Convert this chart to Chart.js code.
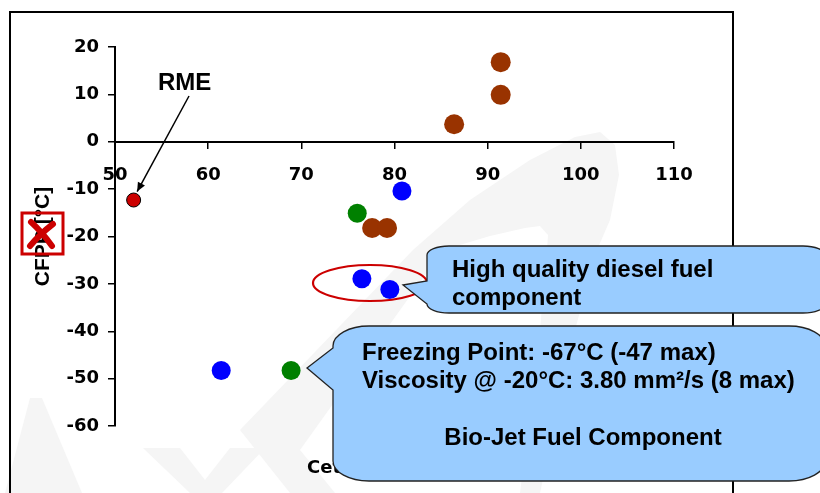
<!DOCTYPE html>
<html>
<head>
<meta charset="utf-8">
<script src="https://cdn.jsdelivr.net/npm/chart.js@4.4.0/dist/chart.umd.min.js"></script>
<style>
html, body { margin: 0; padding: 0; background: #fff; }
#wrap { width: 820px; height: 493px; }
</style>
</head>
<body>
<div id="wrap"><canvas id="myChart" width="820" height="493"></canvas></div>
<script>
// values (cetane number vs CFPP)
var rmeX = [52];
var rmeY = [-12.3];
var brownX = [91.4, 91.4, 86.4, 77.6, 79.2];
var brownY = [16.8, 9.9, 3.7, -18.2, -18.2];
var blueX = [80.8, 76.5, 79.5, 61.4];
var blueY = [-10.4, -28.9, -31.2, -48.3];
var greenX = [76, 68.9];
var greenY = [-15.1, -48.3];

var xTicks = [50, 60, 70, 80, 90, 100, 110];
var yTicks = [-60, -50, -40, -30, -20, -10, 0, 10, 20];

var yTitle = 'CFPP [°C]';
var xTitle = 'Cetane Number';
var rmeLabel = 'RME';
var note1 = ['High quality diesel fuel', 'component'];
var note2 = ['Freezing Point: -67°C (-47 max)', 'Viscosity @ -20°C: 3.80 mm²/s (8 max)', 'Bio-Jet Fuel Component'];

var tickFont = { family: 'DejaVu Sans', weight: 'bold', size: 18 };
var boxFont = 'bold 24px "Liberation Sans", Arial, sans-serif';

function pts(xs, ys){
    return xs.map(function(x, i){ return { x: x, y: ys[i] }; });
}

function callout(ctx, x0, y0, x1, y1, rx, ry, pTop, pBot, tipX, tipY){
    ctx.beginPath();
    ctx.moveTo(x0 + rx, y0);
    ctx.lineTo(x1 - rx, y0);
    ctx.ellipse(x1 - rx, y0 + ry, rx, ry, 0, -Math.PI / 2, 0);
    ctx.lineTo(x1, y1 - ry);
    ctx.ellipse(x1 - rx, y1 - ry, rx, ry, 0, 0, Math.PI / 2);
    ctx.lineTo(x0 + rx, y1);
    ctx.ellipse(x0 + rx, y1 - ry, rx, ry, 0, Math.PI / 2, Math.PI);
    ctx.lineTo(x0, pBot);
    ctx.lineTo(tipX, tipY);
    ctx.lineTo(x0, pTop);
    ctx.lineTo(x0, y0 + ry);
    ctx.ellipse(x0 + rx, y0 + ry, rx, ry, 0, Math.PI, Math.PI * 1.5);
    ctx.closePath();
    ctx.fillStyle = '#99CCFF';
    ctx.fill();
    ctx.strokeStyle = '#222';
    ctx.lineWidth = 1.3;
    ctx.stroke();
}

function poly(ctx, p){
    ctx.moveTo(p[0][0], p[0][1]);
    for (var i = 1; i < p.length; i++) ctx.lineTo(p[i][0], p[i][1]);
    ctx.closePath();
}

var decor = {
    id: 'decor',
    beforeDraw: function(chart){
        var ctx = chart.ctx;
        ctx.save();
        ctx.fillStyle = '#fff';
        ctx.fillRect(0, 0, chart.width, chart.height);
        // faint slide watermark
        ctx.fillStyle = '#f5f5f5';
        ctx.beginPath();
        poly(ctx, [[290,493],[240,430],[413,250],[470,200],[530,160],[575,137],[600,132],[615,145],[619,175],[610,220],[597,250],[575,330],[540,493]]);
        poly(ctx, [[335,493],[300,450],[443,250],[490,236],[525,228],[540,226],[548,235],[547,250],[540,330],[520,493]]);
        ctx.fill('evenodd');
        ctx.beginPath();
        poly(ctx, [[5,493],[30,398],[42,398],[82,493]]);
        ctx.fill();
        ctx.beginPath();
        poly(ctx, [[143,448],[180,448],[205,480],[230,448],[265,448],[222,493],[190,493]]);
        ctx.fill();
        // slide frame
        ctx.strokeStyle = '#000';
        ctx.lineWidth = 2;
        ctx.strokeRect(10, 12, 723, 600);
        ctx.restore();
    },
    afterDraw: function(chart){
        var ctx = chart.ctx;
        var xs = chart.scales.x, ys = chart.scales.y;
        ctx.save();

        // x axis title, mostly hidden behind the lower callout
        ctx.fillStyle = '#000';
        ctx.font = 'bold 18px "DejaVu Sans"';
        ctx.textAlign = 'left';
        ctx.textBaseline = 'alphabetic';
        ctx.fillText(xTitle, 307, 473);

        // broken picture placeholder over the y title
        ctx.strokeStyle = '#CC0000';
        ctx.lineWidth = 3;
        ctx.strokeRect(22, 213, 41, 41);
        ctx.lineCap = 'round';
        ctx.lineWidth = 6;
        ctx.beginPath();
        ctx.moveTo(31, 222); ctx.quadraticCurveTo(42, 232, 52, 246);
        ctx.moveTo(53, 224); ctx.quadraticCurveTo(40, 234, 30, 246);
        ctx.stroke();

        // RME label with arrow
        var px = xs.getPixelForValue(rmeX[0]), py = ys.getPixelForValue(rmeY[0]);
        ctx.fillStyle = '#000';
        ctx.font = boxFont;
        ctx.fillText(rmeLabel, 158, 90);
        var tx = px + 3.5, ty = py - 8.5;
        ctx.strokeStyle = '#000';
        ctx.lineWidth = 1.5;
        ctx.lineCap = 'butt';
        ctx.beginPath();
        ctx.moveTo(189, 96);
        ctx.lineTo(tx, ty);
        ctx.stroke();
        var a = Math.atan2(ty - 96, tx - 189);
        ctx.beginPath();
        ctx.moveTo(tx, ty);
        ctx.lineTo(tx - 9 * Math.cos(a) + 4 * Math.sin(a), ty - 9 * Math.sin(a) - 4 * Math.cos(a));
        ctx.lineTo(tx - 9 * Math.cos(a) - 4 * Math.sin(a), ty - 9 * Math.sin(a) + 4 * Math.cos(a));
        ctx.closePath();
        ctx.fill();

        // red ellipse round the two blue points
        ctx.strokeStyle = '#CC0000';
        ctx.lineWidth = 2.2;
        ctx.beginPath();
        ctx.ellipse(370, 283, 57, 18, 0, 0, Math.PI * 2);
        ctx.stroke();

        // callouts
        callout(ctx, 427, 246, 825, 313, 22, 9, 281, 304, 403, 285);
        callout(ctx, 333, 326, 825, 481, 36, 20, 348, 390, 307, 368);

        ctx.fillStyle = '#000';
        ctx.font = boxFont;
        ctx.textAlign = 'left';
        ctx.fillText(note1[0], 452, 277);
        ctx.fillText(note1[1], 452, 305);
        ctx.fillText(note2[0], 362, 360);
        ctx.fillText(note2[1], 362, 388);
        ctx.textAlign = 'center';
        ctx.fillText(note2[2], 583, 445);
        ctx.restore();
    }
};

var canvas = document.getElementById('myChart');
var myMainChart = new Chart(canvas.getContext('2d'), {
    type: 'scatter',
    data: {
        datasets: [
            { label: 'RME', data: pts(rmeX, rmeY), backgroundColor: '#CC0000', borderColor: '#000', borderWidth: 1, pointRadius: 7 },
            { label: 'A', data: pts(brownX, brownY), backgroundColor: '#993300', borderWidth: 0, pointRadius: 10 },
            { label: 'B', data: pts(blueX, blueY), backgroundColor: '#0000FF', borderWidth: 0, pointRadius: 9.5 },
            { label: 'C', data: pts(greenX, greenY), backgroundColor: '#008000', borderWidth: 0, pointRadius: 9.5 }
        ]
    },
    options: {
        responsive: false,
        animation: false,
        devicePixelRatio: 1,
        events: [],
        layout: { padding: { left: 20, top: 47, right: 146, bottom: 67 } },
        plugins: { legend: { display: false }, tooltip: { enabled: false } },
        scales: {
            x: {
                type: 'linear',
                position: { y: 0 },
                min: xTicks[0],
                max: xTicks[xTicks.length - 1],
                afterFit: function(s){ s.height = 0; },
                ticks: { stepSize: xTicks[1] - xTicks[0], font: tickFont, color: '#000', padding: 17 },
                grid: { drawOnChartArea: false, drawTicks: true, tickLength: 6, color: '#000', lineWidth: 1.5 },
                border: { display: true, color: '#000', width: 2 }
            },
            y: {
                type: 'linear',
                position: 'left',
                min: yTicks[0],
                max: yTicks[yTicks.length - 1],
                afterFit: function(s){ s.width = 95; },
                ticks: { stepSize: yTicks[1] - yTicks[0], font: tickFont, color: '#000', padding: 9 },
                grid: { drawOnChartArea: false, drawTicks: true, tickLength: 7, color: '#000', lineWidth: 1.5 },
                border: { display: true, color: '#000', width: 2 },
                title: {
                    display: true,
                    text: yTitle,
                    color: '#000',
                    font: { family: 'Liberation Sans', weight: 'bold', size: 21 },
                    padding: { top: 11, bottom: 0 }
                }
            }
        }
    },
    plugins: [decor]
});
</script>
</body>
</html>
